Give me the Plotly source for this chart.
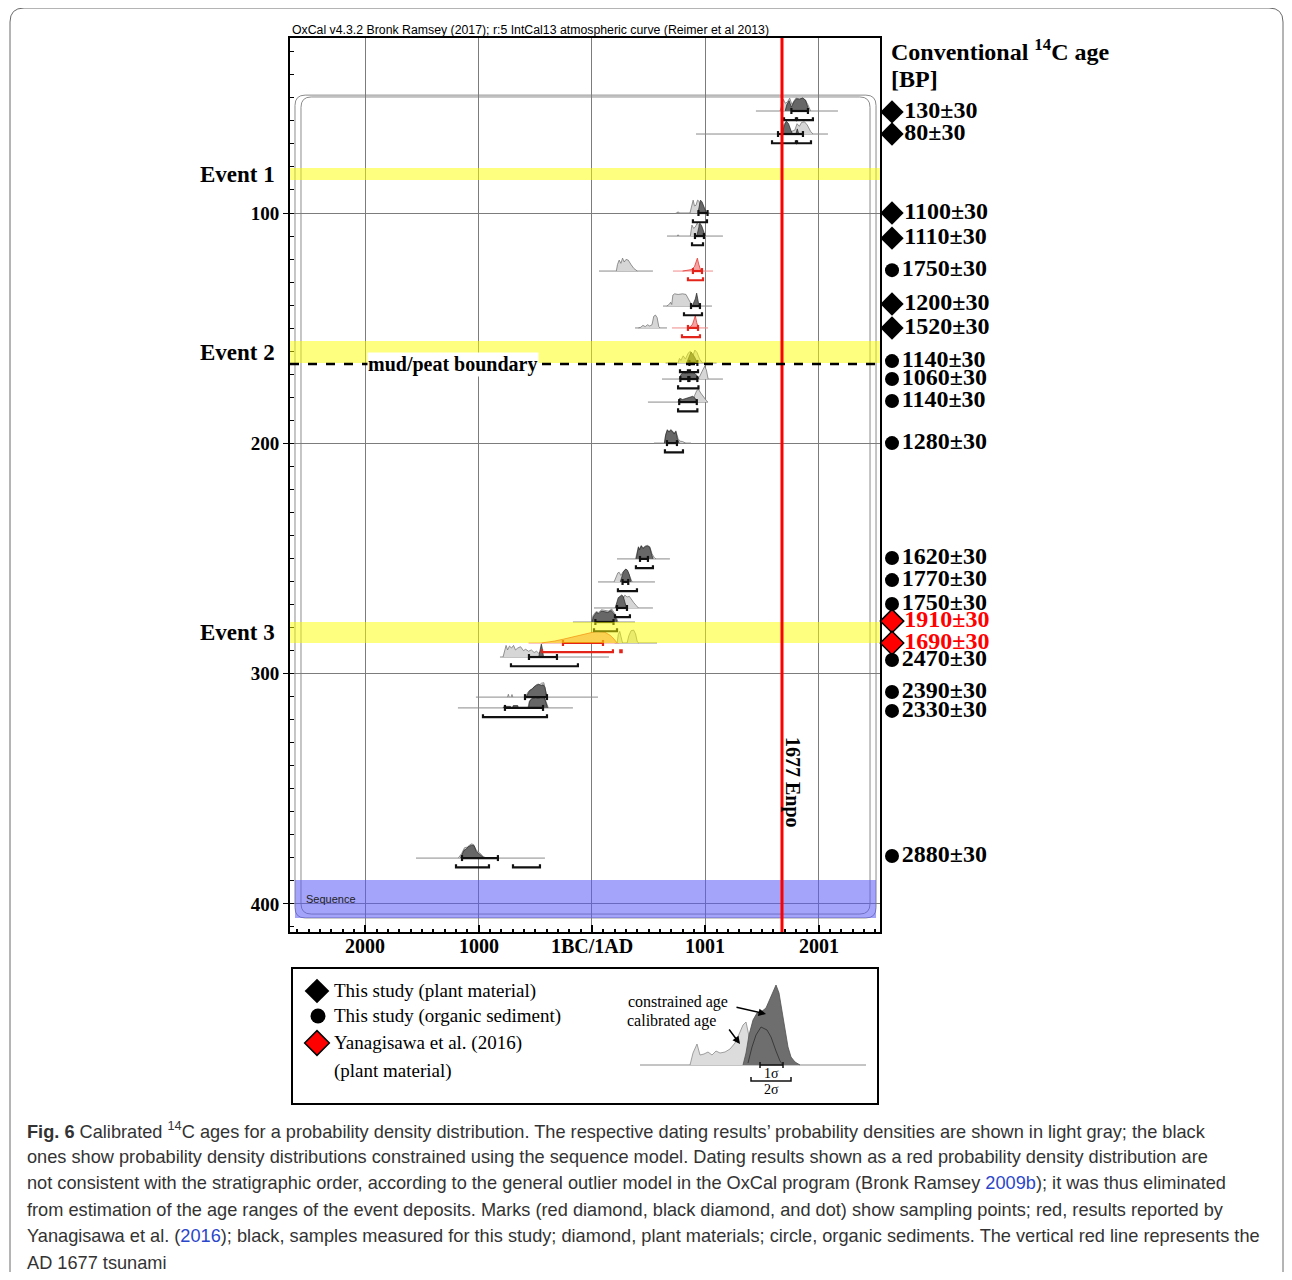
import plotly.graph_objects as go

# ======================= DATA =======================
x_tick_vals = [-2000, -1000, 0, 1001, 2001]
x_tick_text = ["2000", "1000", "1BC/1AD", "1001", "2001"]
y_tick_vals = [100, 200, 300, 400]

event_names = ["Event 1", "Event 2", "Event 3"]
event_top = [80.5, 155.6, 277.6]
event_bottom = [85.7, 165.1, 286.7]

boundary_depth = 165.6
boundary_text = "mud/peat boundary"
boundary_text_year = -1227
tsunami_year = 1677
tsunami_text = "1677 Enpo"
tsunami_text_depth = 347.5
sequence_top = 389.6
sequence_bottom = 406.1

# sample rows (depth of baseline, cm)
row_depth = [55.7, 65.7, 100.0, 110.0, 125.2, 140.4, 149.9, 165.1, 172.1, 182.1,
             199.9, 250.2, 260.2, 271.5, 277.6, 286.7, 292.8, 310.2, 314.9, 380.1]
row_outlier = [False, False, False, False, True, False, True, False, False, False,
               False, False, False, False, False, True, False, False, False, False]
row_base = [(1447, 2171), (918, 2083), (740, 1040), (662, 1156), (62, 538), (627, 1059),
            (380, 662), (650, 1100), (618, 1156), (494, 1024), (547, 874), (221, 688),
            (53, 556), (18, 538), (-168, 380), (200, 574), (-812, 150), (-1024, 53),
            (-1183, -168), (-1553, -415)]
row_model_base = [None, None, None, None, (715, 1068), None, (706, 1024), None, None, None,
                  None, None, None, None, None, (-560, 240), None, None, None, None]

# calibrated (light gray) densities: pieces of (year, relative density)
light_pieces = [
    [[(1660, 0), (1675, .5), (1690, .9), (1705, .6), (1725, .7), (1745, 1.0), (1765, .5), (1785, .8),
      (1800, 1.0), (1830, .95), (1860, 1.0), (1885, .8), (1905, .5), (1930, 0)]],
    [[(1670, 0), (1690, .7), (1710, .9), (1730, .5), (1760, .2), (1790, .3), (1810, .8), (1830, .6),
      (1850, .9), (1875, .95), (1900, .7), (1930, .2), (1950, 0)]],
    [[(750, 0), (760, .1), (770, 0)],
     [(865, 0), (878, .6), (893, 1.0), (905, .55), (918, .6), (932, 1.0), (946, .9), (958, .3), (970, 0)]],
    [[(752, 0), (760, .1), (768, 0)],
     [(868, 0), (882, .85), (897, .6), (912, .7), (928, 1.0), (946, .8), (962, .3), (972, 0)]],
    [[(215, 0), (225, .5), (240, .85), (255, .6), (270, 1.0), (285, .7), (300, .9), (320, .85),
      (345, .5), (370, .2), (400, 0)]],
    [[(660, 0), (672, .08), (684, .15), (694, .3), (704, .12), (714, .85), (730, .95), (760, .9),
      (800, .95), (830, .9), (860, .35), (885, 0)]],
    [[(410, 0), (430, .05), (450, .2), (470, .1), (490, .25), (510, .15), (530, .25), (545, .9),
      (560, 1.0), (575, .8), (590, .1), (600, 0)]],
    [[(760, 0), (772, .35), (785, .2), (805, .55), (825, .3), (848, .75), (868, .9), (888, .5),
      (908, 1.0), (928, .8), (950, .3), (975, 0)]],
    [[(930, 0), (950, .2), (972, .6), (995, 1.0), (1010, .7), (1025, 0)]],
    [[(890, 0), (905, .5), (925, .9), (940, 1.0), (960, .7), (985, .4), (1010, .1), (1020, 0)]],
    [[(640, 0), (650, .65), (665, 1.05), (680, .9), (695, 1.05), (710, .95), (725, .75), (740, .95),
      (760, .35), (775, .15), (800, .12), (825, 0)]],
    [[(385, 0), (398, .55), (410, .95), (420, .75), (435, 1.05), (450, .85), (470, 1.0), (490, 1.05),
      (510, .95), (530, .4), (550, .1), (565, 0)]],
    [[(195, 0), (210, .3), (228, .7), (240, .75), (255, .5), (275, .8), (300, 1.0), (320, .7),
      (340, .2), (355, 0)]],
    [[(265, 0), (275, .7), (290, 1.0), (310, .85), (330, .9), (350, .6), (370, .4), (390, .2), (410, 0)]],
    [[(-5, 0), (10, .5), (35, .8), (60, .75), (85, .95), (115, .9), (145, .85), (175, 1.0), (205, .6), (230, 0)]],
    [[(222, 0), (232, .65), (245, .9), (258, .5), (270, 0)],
     [(310, 0), (325, .55), (345, .95), (368, 1.0), (385, .7), (400, .1), (412, 0)]],
    [[(-785, 0), (-772, .5), (-758, .9), (-745, .55), (-728, .85), (-710, .7), (-692, .9), (-675, .55),
      (-655, .7), (-630, .8), (-605, .5), (-585, .6), (-560, .45), (-535, .55), (-510, .35), (-490, .45),
      (-470, .3), (-455, .4), (-440, 0)]],
    [[(-745, 0), (-738, .22), (-731, 0)], [(-713, 0), (-706, .2), (-699, 0)],
     [(-585, 0), (-568, .35), (-548, .55), (-528, .65), (-505, .85), (-485, 1.0), (-462, .95),
      (-445, 1.08), (-425, 1.12), (-408, .6), (-395, 0)]],
    [[(-565, 0), (-552, .55), (-532, .75), (-505, .85), (-475, .8), (-445, .95), (-420, .85),
      (-400, .35), (-385, 0)]],
    [[(-1180, 0), (-1165, .15), (-1150, .35), (-1125, .8), (-1100, .85), (-1080, 1.0), (-1065, 1.1),
      (-1045, 1.05), (-1020, .6), (-990, .4), (-960, .12), (-930, 0)]],
]

# modelled / constrained densities (dark gray, or red for outliers)
model_pieces = [
    [[(1705, 0), (1720, .5), (1740, .8), (1760, .3), (1785, .75), (1805, .95), (1830, .9), (1860, 1.0),
      (1885, .85), (1900, .4), (1915, 0)]],
    [[(1680, 0), (1695, .6), (1715, 1.0), (1735, .8), (1755, .3), (1770, 0)],
     [(1800, 0), (1812, .4), (1825, 0)]],
    [[(935, 0), (945, .5), (958, 1.0), (972, .85), (990, .4), (1010, 0)]],
    [[(925, 0), (938, .6), (952, 1.0), (968, .8), (984, .4), (1000, 0)]],
    [[(800, 0), (840, .05), (880, .12), (905, .35), (920, .8), (930, 1.0), (942, .55), (958, .1), (975, 0)]],
    [[(885, 0), (898, .3), (912, .55), (924, 1.0), (932, .45), (945, 0)]],
    [[(845, 0), (870, .1), (888, .3), (900, .7), (912, .95), (925, .4), (940, 0)]],
    [[(835, 0), (855, .45), (875, .85), (895, .6), (912, .35), (925, 0)]],
    [[(770, 0), (785, .35), (805, .5), (835, .45), (865, .55), (895, .5), (925, .3), (945, 0)]],
    [[(760, 0), (775, .3), (800, .2), (830, .3), (860, .35), (890, .45), (910, .3), (930, 0)]],
    [[(640, 0), (650, .6), (665, 1.0), (680, .85), (695, 1.0), (710, .9), (725, .7), (740, .9), (755, .3), (770, 0)]],
    [[(390, 0), (400, .5), (410, .9), (420, .7), (435, 1.0), (450, .8), (470, .95), (490, 1.0), (510, .9),
      (528, .3), (540, 0)]],
    [[(250, 0), (262, .4), (278, .8), (298, 1.0), (314, .9), (330, .55), (345, 0)]],
    [[(205, 0), (218, .5), (232, .8), (248, .9), (262, 1.0), (276, .9), (290, .5), (305, 0)]],
    [[(0, 0), (15, .45), (40, .75), (60, .65), (82, .85), (110, .8), (140, .75), (170, .9), (200, .55), (222, 0)]],
    [[(-445, 0), (-400, .05), (-330, .15), (-250, .3), (-150, .5), (-50, .72), (40, .9), (110, .85),
      (160, .6), (195, .3), (222, 0)]],
    [[(-470, 0), (-458, .55), (-447, 1.0), (-438, .65), (-428, 0)]],
    [[(-580, 0), (-565, .3), (-550, .5), (-530, .6), (-510, .8), (-490, .9), (-470, 1.0), (-450, .9),
      (-430, .95), (-415, .75), (-400, 0)]],
    [[(-785, 0), (-775, .12), (-720, .12), (-710, 0)], [(-700, 0), (-695, .18), (-655, .18), (-650, 0)],
     [(-560, 0), (-550, .5), (-530, .7), (-500, .8), (-470, .75), (-440, .9), (-420, .8), (-403, .3), (-392, 0)]],
    [[(-1160, 0), (-1145, .3), (-1130, .6), (-1110, .7), (-1090, .9), (-1060, 1.0), (-1040, .95),
      (-1020, .5), (-1000, .35), (-985, .2), (-970, .1), (-950, 0)]],
]

sigma1 = [[(1760, 1906)], [(1642, 1862)], [(940, 1020)], [(909, 988)], [(891, 971)], [(874, 953)],
          [(847, 936)], [(860, 930)], [(780, 850), (860, 930)], [(770, 925)], [(662, 750)],
          [(424, 494)], [(270, 320)], [(221, 309)], [(30, 190)], [(-256, 97)], [(-556, -309)],
          [(-591, -397)], [(-768, -432)], [(-1147, -830)]]
sigma2 = [[(1695, 1800), (1810, 1950)], [(1589, 1800), (1810, 1933)], [(891, 1015)], [(883, 980)],
          [(847, 980)], [(812, 971)], [(794, 953)], [(777, 847), (865, 936)], [(760, 940)],
          [(760, 930)], [(644, 803)], [(388, 538)], [(229, 397)], [(203, 335)], [(18, 221)],
          [(-441, 185), (250, 262)], [(-715, -124)], [], [(-962, -397)],
          [(-1200, -909), (-697, -459)]]

# conventional 14C ages (right-hand column)
label_text = ["130±30", "80±30", "1100±30", "1110±30", "1750±30", "1200±30", "1520±30", "1140±30",
              "1060±30", "1140±30", "1280±30", "1620±30", "1770±30", "1750±30", "1910±30", "1690±30",
              "2470±30", "2390±30", "2330±30", "2880±30"]
label_depth = [56.1, 65.7, 100.0, 110.9, 124.8, 139.5, 149.9, 164.3, 172.1, 181.6, 199.9, 249.8,
               259.4, 269.8, 277.2, 286.7, 294.1, 308.0, 316.2, 379.2]
label_symbol = ["diamond", "diamond", "diamond", "diamond", "circle", "diamond", "diamond", "circle",
                "circle", "circle", "circle", "circle", "circle", "circle", "diamond", "diamond",
                "circle", "circle", "circle", "circle"]
label_red = [False] * 14 + [True, True] + [False] * 4

# legend illustration (schematic units)
leg_light = [(60, 0), (63, 12), (67, 21), (70, 10), (74, 11), (78, 13), (82, 10), (86, 14), (90, 12),
             (95, 13), (100, 16), (105, 22), (110, 33), (113, 40), (116, 43), (118, 33), (120, 22),
             (123, 10), (127, 0)]
leg_dark = [(113, 0), (116, 12), (119, 30), (123, 45), (127, 52), (131, 53), (136, 57), (141, 68),
            (146, 80), (149, 72), (152, 55), (155, 35), (158, 18), (161, 8), (165, 3), (170, 0)]
leg_inner = [(118, 2), (122, 18), (126, 30), (131, 38), (137, 35), (141, 28), (146, 14), (150, 4), (153, 0)]
leg_sigma1 = (130, 153)
leg_sigma2 = (121, 161)

legend_items = ["This study (plant material)", "This study (organic sediment)",
                "Yanagisawa et al. (2016)", "(plant material)"]

caption_lines = [
    "<b>Fig. 6</b> Calibrated <sup>14</sup>C ages for a probability density distribution. The respective dating results’ probability densities are shown in light gray; the black",
    "ones show probability density distributions constrained using the sequence model. Dating results shown as a red probability density distribution are",
    "not consistent with the stratigraphic order, according to the general outlier model in the OxCal program (Bronk Ramsey <span style='color:#2b46c9'>2009b</span>); it was thus eliminated",
    "from estimation of the age ranges of the event deposits. Marks (red diamond, black diamond, and dot) show sampling points; red, results reported by",
    "Yanagisawa et al. (<span style='color:#2b46c9'>2016</span>); black, samples measured for this study; diamond, plant materials; circle, organic sediments. The vertical red line represents the",
    "AD 1677 tsunami",
]

# ======================= LAYOUT HELPERS =======================
W, H = 1276, 1264
OFF = 8


def xp(px):
    return (px - OFF) / W


def yp(py):
    return 1 - (py - OFF) / H


SERIF = "Liberation Serif, Times New Roman, serif"
SANS = "Liberation Sans, Arial, sans-serif"

X_RANGE = [-2665, 2542]
Y_RANGE = [412.2, 24.0]
DENS_H = 5.6
S2_OFF = 4.0
TICK = 1.3

fig = go.Figure()


def add_line(xs, ys, color, width, xaxis="x", yaxis="y"):
    fig.add_trace(go.Scatter(x=xs, y=ys, mode="lines", line=dict(color=color, width=width),
                             hoverinfo="skip", xaxis=xaxis, yaxis=yaxis))


def add_fill(xs, ys, fillcolor, linecolor, width=0.7, xaxis="x", yaxis="y"):
    fig.add_trace(go.Scatter(x=xs, y=ys, mode="lines", fill="toself", fillcolor=fillcolor,
                             line=dict(color=linecolor, width=width), hoverinfo="skip",
                             xaxis=xaxis, yaxis=yaxis))


def polys(rows_pieces, rows):
    xs, ys = [], []
    for i in rows:
        d = row_depth[i]
        for pc in rows_pieces[i]:
            for x, h in pc:
                xs.append(x)
                ys.append(d - h * DENS_H)
            xs.append(None)
            ys.append(None)
    return xs, ys


all_rows = list(range(len(row_depth)))
black_rows = [i for i in all_rows if not row_outlier[i]]
red_rows = [i for i in all_rows if row_outlier[i]]

# baselines
bx, by, rx, ry = [], [], [], []
for i in all_rows:
    lo, hi = row_base[i]
    bx += [lo, hi, None]
    by += [row_depth[i]] * 2 + [None]
    if row_model_base[i]:
        lo, hi = row_model_base[i]
        rx += [lo, hi, None]
        ry += [row_depth[i]] * 2 + [None]
add_line(bx, by, "#8a8a8a", 1)
add_line(rx, ry, "#f08a8a", 1)

# distributions
lx, ly = polys(light_pieces, all_rows)
add_fill(lx, ly, "#d6d6d6", "#6a6a6a")
dx, dy = polys(model_pieces, black_rows)
add_fill(dx, dy, "#676767", "#262626")
qx, qy = polys(model_pieces, red_rows)
add_fill(qx, qy, "#f6a3a3", "#e3241b")


# sigma ranges
def sigma_traces(rows, color):
    xs, ys = [], []
    for i in rows:
        d = row_depth[i]
        for lo, hi in sigma1[i]:
            xs += [lo, hi, None, lo, lo, None, hi, hi, None]
            ys += [d, d, None, d - TICK, d + TICK, None, d - TICK, d + TICK, None]
        for lo, hi in sigma2[i]:
            e = d + S2_OFF
            xs += [lo, lo, hi, hi, None]
            ys += [e - TICK, e, e, e - TICK, None]
    add_line(xs, ys, color, 2.2)


sigma_traces(black_rows, "#111111")
sigma_traces(red_rows, "#e3241b")

# right-hand labels (own axis, same depth scale)
fig.add_trace(go.Scatter(
    x=[10] * len(label_text), y=label_depth, mode="markers+text",
    text=label_text, textposition="middle right",
    textfont=dict(family=SERIF, size=24, color=["#ff0000" if r else "black" for r in label_red],
                  weight="bold"),
    marker=dict(symbol=label_symbol, size=[18 if s == "diamond" else 14 for s in label_symbol],
                color=["#ff0000" if r else "black" for r in label_red], opacity=1,
                line=dict(color="black", width=[1.5 if r else 0 for r in label_red])),
    hoverinfo="skip", xaxis="x2", yaxis="y2", cliponaxis=False))

# legend markers
fig.add_trace(go.Scatter(
    x=[25, 26, 25], y=[23, 48, 75], mode="markers",
    marker=dict(symbol=["diamond", "circle", "diamond"], size=[19, 15, 19], opacity=1,
                color=["black", "black", "#ff0000"], line=dict(color="black", width=[0, 0, 1.5])),
    hoverinfo="skip", xaxis="x4", yaxis="y4", cliponaxis=False))

# legend illustration
LB = 85
add_line([10, 236], [LB, LB], "#8a8a8a", 1, "x3", "y3")
add_fill([p[0] for p in leg_light], [LB - p[1] for p in leg_light], "#dcdcdc", "#8a8a8a", 0.8, "x3", "y3")
add_fill([p[0] for p in leg_dark], [LB - p[1] for p in leg_dark], "#6e6e6e", "#505050", 0.8, "x3", "y3")
add_line([p[0] for p in leg_inner], [LB - p[1] for p in leg_inner], "#3a3a3a", 1, "x3", "y3")
a, b = leg_sigma1
add_line([a, b, None, a, a, None, b, b], [LB, LB, None, LB - 3, LB + 3, None, LB - 3, LB + 3],
         "#111111", 1.5, "x3", "y3")
a, b = leg_sigma2
add_line([a, a, b, b], [LB + 12, LB + 16, LB + 16, LB + 12], "#111111", 1.5, "x3", "y3")

# ======================= SHAPES =======================
shapes = []


def rrect(x0, x1, y0, y1, rx, ry):
    return (f"M {x0+rx},{y0} L {x1-rx},{y0} Q {x1},{y0} {x1},{y0+ry} L {x1},{y1-ry} "
            f"Q {x1},{y1} {x1-rx},{y1} L {x0+rx},{y1} Q {x0},{y1} {x0},{y1-ry} L {x0},{y0+ry} "
            f"Q {x0},{y0} {x0+rx},{y0} Z")


# rounded sequence box (double line)
shapes.append(dict(type="path", xref="x", yref="y", layer="below",
                   path=rrect(-2621, 2507, 48.8, 406.1, 90, 4.5), line=dict(color="#8c8c8c", width=1)))
shapes.append(dict(type="path", xref="x", yref="y", layer="below",
                   path=rrect(-2568, 2454, 49.6, 404.4, 90, 4.5), line=dict(color="#8c8c8c", width=1)))
# sequence band
shapes.append(dict(type="rect", xref="x", yref="y", layer="above", x0=-2621, x1=2507,
                   y0=sequence_top, y1=sequence_bottom, fillcolor="rgba(90,90,245,0.55)",
                   line=dict(width=0)))
# event bands
for t, bt in zip(event_top, event_bottom):
    shapes.append(dict(type="rect", xref="paper", yref="y", layer="above", x0=xp(290), x1=xp(880),
                       y0=t, y1=bt, fillcolor="rgba(255,255,0,0.5)", line=dict(width=0)))
# tsunami line
shapes.append(dict(type="line", xref="x", yref="y", layer="above", x0=tsunami_year, x1=tsunami_year,
                   y0=Y_RANGE[0], y1=Y_RANGE[1], line=dict(color="#ff0000", width=3)))
# mud/peat boundary
shapes.append(dict(type="line", xref="x", yref="y", layer="above", x0=X_RANGE[0], x1=X_RANGE[1],
                   y0=boundary_depth, y1=boundary_depth, line=dict(color="black", width=2.5, dash="dash")))
# legend box
shapes.append(dict(type="rect", xref="paper", yref="paper", x0=xp(292), x1=xp(878), y0=yp(968),
                   y1=yp(1104), line=dict(color="black", width=2)))
# outer figure frame
fx0, fx1, fy0, fy1, r = xp(10), xp(1283), yp(8), yp(1300), 14
shapes.append(dict(type="path", xref="paper", yref="paper",
                   path=(f"M {fx0},{fy1} L {fx0},{yp(8 + r)} Q {fx0},{fy0} {xp(10 + r)},{fy0} "
                         f"L {xp(1283 - r)},{fy0} Q {fx1},{fy0} {fx1},{yp(8 + r)} L {fx1},{fy1}"),
                   line=dict(color="#6a6a6a", width=1)))

# ======================= ANNOTATIONS =======================
ann = []
ann.append(dict(text="OxCal v4.3.2 Bronk Ramsey (2017); r:5 IntCal13 atmospheric curve (Reimer et al 2013)",
                xref="paper", yref="paper", x=xp(290), y=yp(30), xanchor="left", yanchor="middle",
                showarrow=False, font=dict(family=SANS, size=12.3, color="black")))
ann.append(dict(text="<b>Conventional <sup>14</sup>C age</b>", xref="paper", yref="paper", x=xp(889),
                y=yp(50), xanchor="left", yanchor="middle", showarrow=False,
                font=dict(family=SERIF, size=24, color="black")))
ann.append(dict(text="<b>[BP]</b>", xref="paper", yref="paper", x=xp(889), y=yp(79), xanchor="left",
                yanchor="middle", showarrow=False, font=dict(family=SERIF, size=24, color="black")))
# x tick labels (placed on the axis scale)
for v, t in zip(x_tick_vals, x_tick_text):
    ann.append(dict(text=f"<b>{t}</b>", xref="x", yref="paper", x=v, y=yp(946), xanchor="center",
                    yanchor="middle", showarrow=False, font=dict(family=SERIF, size=20, color="black")))
for name, t, bt in zip(event_names, event_top, event_bottom):
    ann.append(dict(text=f"<b>{name}</b>", xref="paper", yref="y", x=xp(277), y=(t + bt) / 2,
                    xanchor="right", yanchor="middle", showarrow=False,
                    font=dict(family=SERIF, size=23, color="black")))
ann.append(dict(text=f"<b>{boundary_text}</b>", xref="x", yref="y", x=boundary_text_year,
                y=boundary_depth, xanchor="center", yanchor="middle", showarrow=False,
                bgcolor="white", borderpad=0, font=dict(family=SERIF, size=20, color="black")))
ann.append(dict(text=f"<b>{tsunami_text}</b>", xref="x", yref="y", x=tsunami_year, xshift=11,
                y=tsunami_text_depth, textangle=90, xanchor="center", yanchor="middle",
                showarrow=False, font=dict(family=SERIF, size=20, color="black")))
ann.append(dict(text="Sequence", xref="paper", yref="y", x=xp(304), y=(sequence_top + sequence_bottom) / 2,
                xanchor="left", yanchor="middle", showarrow=False,
                font=dict(family=SANS, size=11, color="#222")))
# legend texts
for txt, yy in zip(legend_items, [23, 48, 75, 103]):
    ann.append(dict(text=txt, xref="x4", yref="y4", x=40, y=yy, xanchor="left", yanchor="middle",
                    showarrow=False, font=dict(family=SERIF, size=19, color="black")))
ann.append(dict(text="constrained age", xref="x3", yref="y3", x=48, y=22, showarrow=False,
                font=dict(family=SERIF, size=16, color="black")))
ann.append(dict(text="calibrated age", xref="x3", yref="y3", x=41, y=41, showarrow=False,
                font=dict(family=SERIF, size=16, color="black")))
ann.append(dict(text="", xref="x3", yref="y3", x=136, y=34, ax=105, ay=27, axref="x3", ayref="y3",
                showarrow=True, arrowhead=2, arrowsize=1, arrowwidth=1.5, arrowcolor="black"))
ann.append(dict(text="", xref="x3", yref="y3", x=110, y=64, ax=98, ay=48, axref="x3", ayref="y3",
                showarrow=True, arrowhead=2, arrowsize=1, arrowwidth=1.5, arrowcolor="black"))
ann.append(dict(text="1σ", xref="x3", yref="y3", x=141, y=93, showarrow=False,
                font=dict(family=SERIF, size=14, color="black")))
ann.append(dict(text="2σ", xref="x3", yref="y3", x=141, y=109, showarrow=False,
                font=dict(family=SERIF, size=14, color="black")))
# caption
for k, line in enumerate(caption_lines):
    ann.append(dict(text=line, xref="paper", yref="paper", x=xp(25), y=yp(1130 + 26.6 * k),
                    xanchor="left", yanchor="middle", showarrow=False,
                    font=dict(family=SANS, size=18.2, color="#333333")))

hidden = dict(visible=False, fixedrange=True, showgrid=False, zeroline=False)

fig.update_layout(
    width=W, height=H, margin=dict(l=0, r=0, t=0, b=0),
    paper_bgcolor="white", plot_bgcolor="white", showlegend=False,
    xaxis=dict(domain=[xp(290), xp(880)], range=X_RANGE, anchor="y", tickmode="array",
               tickvals=x_tick_vals, showticklabels=False,
               ticks="inside", ticklen=7, tickwidth=1.5, tickcolor="black",
               showgrid=True, gridcolor="#7c7c7c", gridwidth=1, zeroline=False,
               showline=True, linecolor="black", linewidth=2, mirror=True, fixedrange=True,
               minor=dict(tickmode="linear", tick0=1, dtick=100, ticks="inside", ticklen=3.5,
                          tickcolor="black", showgrid=False)),
    yaxis=dict(domain=[yp(932), yp(38)], range=Y_RANGE, anchor="x", tickmode="array",
               tickvals=y_tick_vals, ticktext=[f"<b>{v}</b>" for v in y_tick_vals],
               ticks="outside", ticklen=5, tickwidth=1.3, tickcolor="black",
               showgrid=True, gridcolor="#7c7c7c", gridwidth=1, zeroline=False,
               showline=True, linecolor="black", linewidth=2, mirror=True,
               tickfont=dict(family=SERIF, size=19, color="black"), fixedrange=True,
               minor=dict(tickmode="linear", tick0=0, dtick=10, ticks="inside", ticklen=4,
                          tickcolor="black", showgrid=False)),
    xaxis2=dict(domain=[xp(882), xp(1010)], range=[0, 128], anchor="y2", **hidden),
    yaxis2=dict(domain=[yp(932), yp(38)], range=Y_RANGE, anchor="x2", **hidden),
    xaxis3=dict(domain=[xp(630), xp(870)], range=[0, 240], anchor="y3", **hidden),
    yaxis3=dict(domain=[yp(1100), yp(980)], range=[120, 0], anchor="x3", **hidden),
    xaxis4=dict(domain=[xp(292), xp(620)], range=[0, 328], anchor="y4", **hidden),
    yaxis4=dict(domain=[yp(1104), yp(968)], range=[136, 0], anchor="x4", **hidden),
    shapes=shapes, annotations=ann,
)

fig.write_html("out.html")
